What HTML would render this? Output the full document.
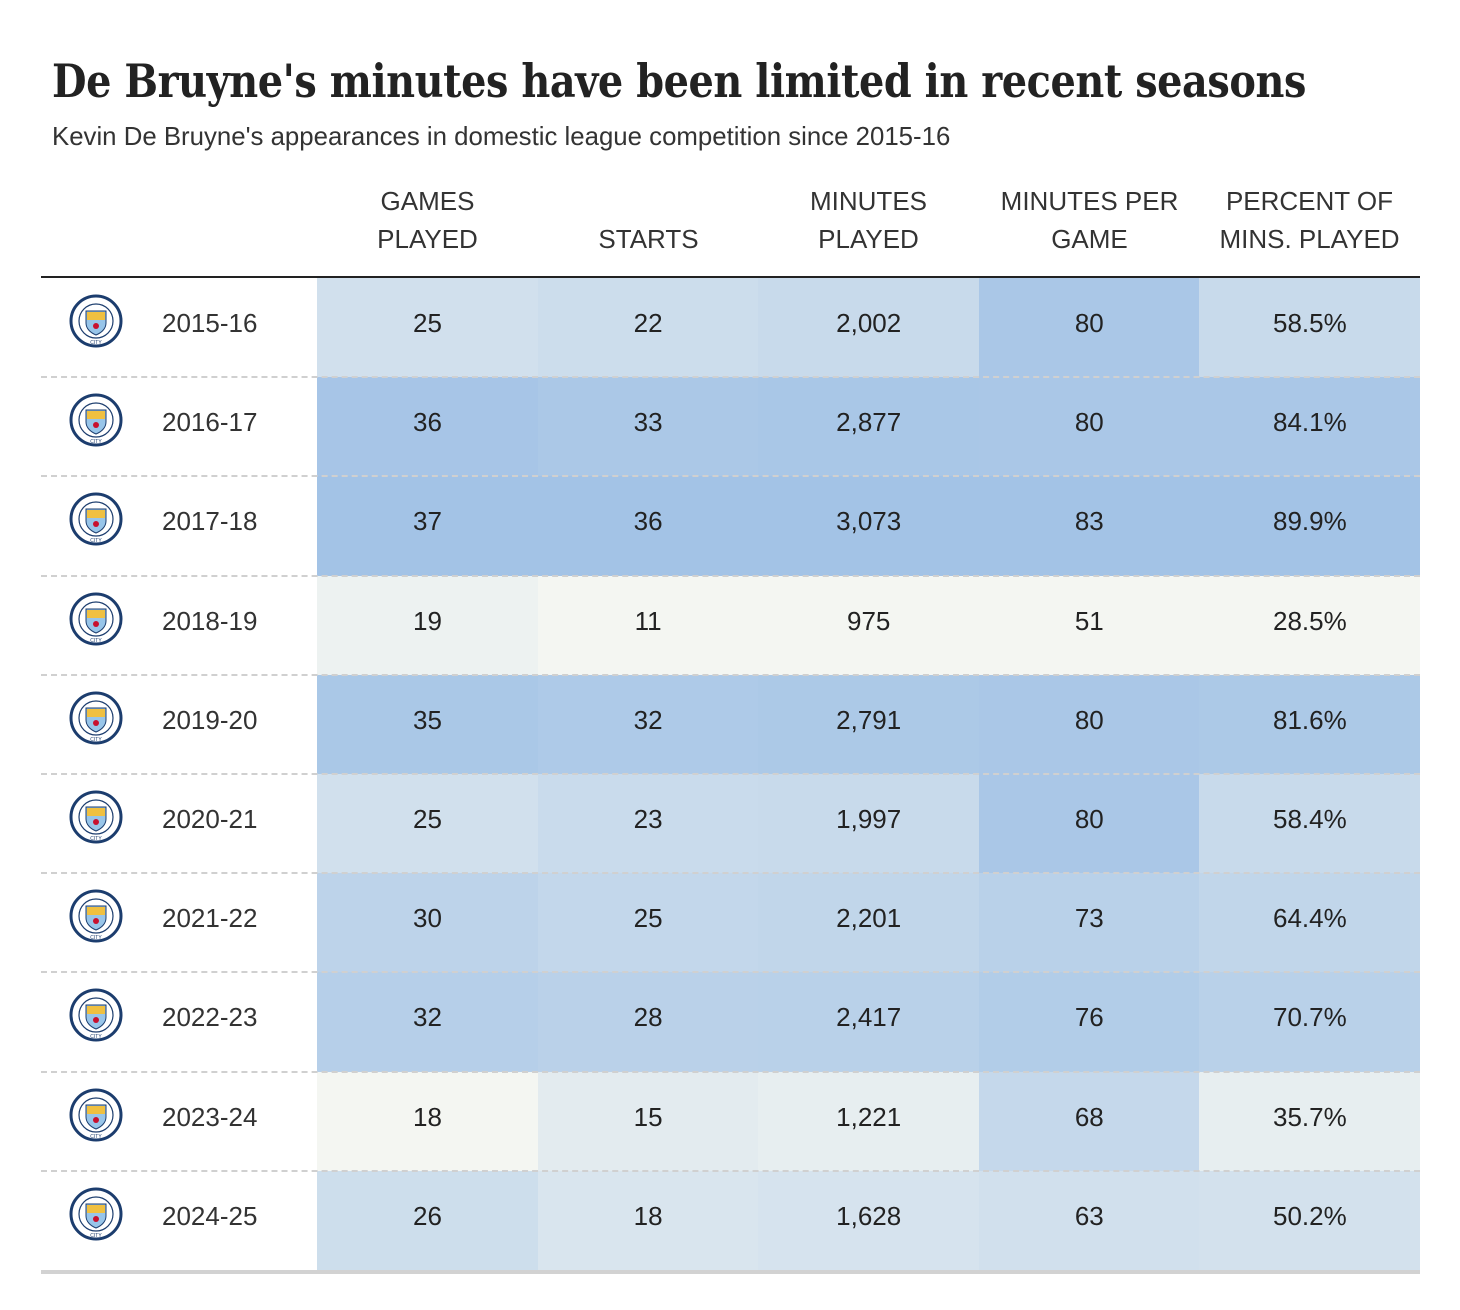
<!DOCTYPE html>
<html><head><meta charset="utf-8">
<style>
body{margin:0;background:#fff;width:1460px;height:1310px;position:relative;font-family:"Liberation Sans",sans-serif;color:#222;overflow:hidden}
#title{position:absolute;left:52px;top:54px;font:bold 46px "DejaVu Serif","Liberation Serif",serif;color:#222;letter-spacing:-0.5px;white-space:nowrap;transform:scaleX(0.865);transform-origin:0 0}
#sub{position:absolute;left:52px;top:123px;font-size:25.8px;color:#333}
.hdr{position:absolute;top:182px;width:221px;text-align:center;font-size:26px;line-height:38px;color:#333}
#hline{position:absolute;left:41px;top:276px;width:1379px;height:2px;background:#222}
.row{position:absolute;left:41px;width:1379px;height:99.2px}
.cell{position:absolute;top:0;height:100%;width:221px;display:flex;align-items:center;justify-content:center;font-size:26px;color:#222;padding-bottom:8px;box-sizing:border-box}
.sep{position:absolute;left:0;width:1379px;height:0;border-top:2px dashed #d0d0d0}
.season{position:absolute;left:121px;top:0;height:100%;display:flex;align-items:center;font-size:26px;color:#333;padding-bottom:8px;box-sizing:border-box}
.logo{position:absolute;left:28px;top:16px}
#bottom{position:absolute;left:41px;top:1270px;width:1379px;height:4px;background:#d2d2d2}
</style></head><body>
<div id="title">De Bruyne's minutes have been limited in recent seasons</div>
<div id="sub">Kevin De Bruyne's appearances in domestic league competition since 2015-16</div>
<div class="hdr" style="left:317px">GAMES<br>PLAYED</div>
<div class="hdr" style="left:538px"><br>STARTS</div>
<div class="hdr" style="left:758px">MINUTES<br>PLAYED</div>
<div class="hdr" style="left:979px">MINUTES PER<br>GAME</div>
<div class="hdr" style="left:1199px">PERCENT OF<br>MINS. PLAYED</div>
<div id="hline"></div>
<div id="table"></div>
<div id="bottom"></div>
<script>
const seasons=["2015-16","2016-17","2017-18","2018-19","2019-20","2020-21","2021-22","2022-23","2023-24","2024-25"];
const games=[25,36,37,19,35,25,30,32,18,26];
const starts=[22,33,36,11,32,23,25,28,15,18];
const minutes=[2002,2877,3073,975,2791,1997,2201,2417,1221,1628];
const mpg=[80,80,83,51,80,80,73,76,68,63];
const pct=[58.5,84.1,89.9,28.5,81.6,58.4,64.4,70.7,35.7,50.2];
const cols=[games,starts,minutes,mpg,pct];
const fmt=[v=>v,v=>v,v=>v.toLocaleString('en-US'),v=>v,v=>v.toFixed(1)+'%'];
const colNames=['games','starts','minutes','mpg','pct'];
const lo=[244,246,242],hi=[163,195,230];
function color(v,arr){const mn=Math.min(...arr),mx=Math.max(...arr);let t=(v-mn)/(mx-mn);t=Math.pow(t,0.85);return 'rgb('+lo.map((c,i)=>Math.round(c+(hi[i]-c)*t)).join(',')+')';}
const logo=`<svg width="54" height="54" viewBox="0 0 54 54"><circle cx="27" cy="27" r="25" fill="#fff" stroke="#1c3d6e" stroke-width="3"/><circle cx="27" cy="27" r="17" fill="#fff" stroke="#1c3d6e" stroke-width="1.2"/><path d="M17 17h20v12c0 6-5 10-10 12c-5-2-10-6-10-12z" fill="#98c5e9" stroke="#1c3d6e" stroke-width="1"/><path d="M18 18h18v8h-18z" fill="#f0c040"/><circle cx="27" cy="32" r="3" fill="#c8102e"/><text x="27" y="50" font-size="5" text-anchor="middle" fill="#1c3d6e" font-family="Liberation Sans">CITY</text></svg>`;
const tb=document.getElementById('table');
seasons.forEach((s,r)=>{
 const row=document.createElement('div');
 
 
 row.className='row';row.style.top=(278+r*99.2)+'px';
 const lg=document.createElement('div');lg.className='logo';lg.innerHTML=logo;
 
 
 row.appendChild(lg);
 const se=document.createElement('div');se.className='season';se.textContent=s;
 
 
 row.appendChild(se);
 cols.forEach((arr,c)=>{
  const d=document.createElement('div');d.className='cell';
  
  
  d.style.left=(276+c*220.6)+'px';d.style.background=color(arr[r],arr);
  d.textContent=fmt[c](arr[r]);row.appendChild(d);
 });
 if(r>0){const sp=document.createElement('div');sp.className='sep';sp.style.top='-1px';
  
  
  row.appendChild(sp);}
 tb.appendChild(row);
});
</script>
</body></html>
